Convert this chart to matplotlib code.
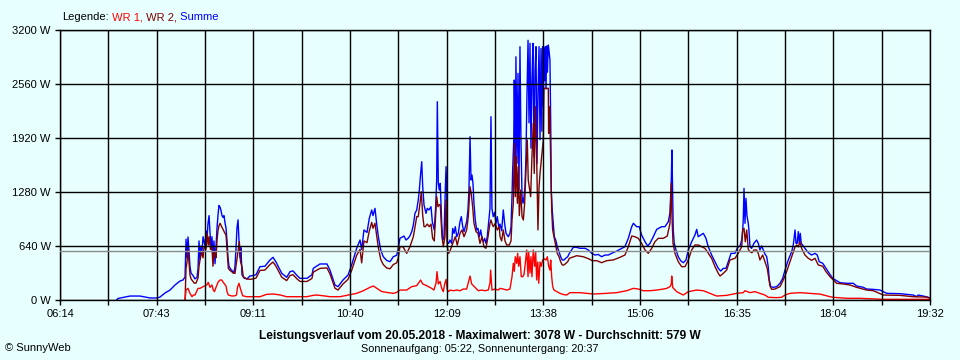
import matplotlib
matplotlib.use("Agg")
import matplotlib.pyplot as plt
import numpy as np

plt.rcParams['font.family'] = ['Liberation Sans', 'DejaVu Sans']

# ---- data (time = minutes after midnight, power in W) ----
sum_t = [426.0, 427.2, 433.6, 438.2, 447.4, 452.0, 456.6, 463.0, 465.7, 470.3, 474.9, 479.5, 484.1, 486.8, 488.7,
         489.6, 490.5, 491.4, 492.3, 493.2, 494.2, 496.0, 497.8, 499.7, 500.6, 501.5, 502.4, 503.3, 504.2, 505.2,
         507.0, 507.9, 508.8, 509.7, 510.7, 511.6, 512.5, 513.4, 514.3, 515.2, 516.2, 517.1, 518.0, 518.9, 519.8,
         520.8, 521.7, 522.6, 523.5, 524.4, 525.3, 526.3, 527.2, 528.1, 529.0, 530.8, 531.8, 533.6, 534.5, 535.4,
         536.3, 537.3, 538.2, 539.1, 540.0, 540.9, 542.8, 545.5,
         548.3, 551.0, 553.8, 557.4, 562.0, 566.6, 569.4, 572.1, 577.4, 581.9, 585.0, 587.7, 591.4, 594.1, 600.6,
         605.1, 606.3, 612.5, 618.9, 621.6, 626.2, 629.0, 633.6, 638.2, 641.5, 646.1, 649.2, 650.7, 652.8, 655.6,
         657.7, 659.9, 661.1, 662.9, 664.5, 666.0, 668.2, 670.5, 673.6, 676.7, 679.7, 682.8, 684.3,
         685.8, 687.7, 689.5, 691.4, 693.2, 695.0, 696.6, 698.1, 699.6, 701.2, 702.6, 703.6, 704.8, 705.8, 706.7,
         707.9, 709.7, 710.9, 712.4, 714.3, 715.5, 717.3, 718.6, 719.5, 720.1, 721.0, 721.9, 722.8, 724.1, 725.0,
         726.2, 727.4, 728.1, 728.7, 729.2, 730.5, 731.7, 733.3, 734.2, 735.4, 736.6, 737.9, 739.3, 740.9, 742.1,
         743.4, 744.6, 745.8, 747.0, 748.2, 749.1, 750.1, 751.0, 751.9, 752.8, 753.7, 754.9, 756.2, 757.4, 758.6,
         759.9, 761.1, 762.3, 763.5, 764.7, 765.9, 767.2, 768.4, 769.3, 770.2, 771.4, 772.7, 773.9, 775.1, 776.4,
         777.6, 779.1, 780.6, 781.9, 783.1, 785.2, 786.7, 787.7, 788.6, 789.2, 790.2, 790.7, 791.6, 792.2, 793.2,
         794.1, 795.0, 795.9, 796.8, 797.8, 798.7, 799.6, 800.5, 801.4, 802.3, 803.3, 804.2, 805.1, 806.0, 806.9,
         807.8, 808.8, 809.7, 810.6, 811.5, 812.4, 813.4, 814.3, 815.2, 816.0, 816.7, 817.3, 817.9, 818.5, 819.1,
         819.8, 820.4, 821.1, 821.9, 822.5, 823.4, 824.1, 824.6, 825.5, 826.5, 827.4, 828.7, 830.1, 831.7, 833.2,
         834.7, 836.3, 837.8, 839.7, 841.2,
         844.8, 847.9, 850.9, 855.5, 858.6, 861.7, 864.7, 867.7, 870.8, 873.9, 876.9, 880.0, 884.6, 889.2, 892.2,
         895.3, 898.4, 899.9, 902.9, 905.3, 907.5, 910.6, 913.0, 915.2, 918.2, 921.3, 925.9, 928.9, 932.0, 933.5,
         934.7, 935.3, 936.0, 936.5, 937.4, 939.0, 941.1, 943.3, 945.7, 948.2, 950.3, 953.4, 956.4, 958.0, 959.4,
         961.7, 964.1, 966.5, 968.6, 971.7, 974.8, 977.8, 980.0, 982.4, 984.9, 987.0, 989.5, 993.1, 995.6, 997.7,
         999.3, 1000.2, 1000.7, 1001.4, 1002.3, 1003.2, 1004.1, 1005.3, 1005.9, 1006.9, 1008.4, 1010.5, 1013.0,
         1014.5, 1016.0, 1017.6, 1019.1, 1020.6, 1022.2, 1023.6, 1024.6, 1025.9, 1028.2, 1031.4, 1034.4, 1036.9,
         1039.0, 1042.0, 1045.1, 1046.6, 1048.2, 1049.1, 1050.2, 1051.2, 1052.1, 1053.0, 1053.9, 1055.2, 1057.3,
         1060.4, 1063.4, 1066.5, 1068.6, 1070.4, 1073.6, 1076.6, 1079.6, 1082.7, 1086.4, 1089.4, 1095.6, 1101.6,
         1104.7, 1110.8, 1113.9, 1120.0, 1126.1, 1132.3, 1144.4, 1156.6, 1159.8, 1161.2, 1165.8, 1170.4, 1172.0]
summe = [0, 18, 35, 47, 47, 35, 24, 24, 35, 83, 118, 178, 225, 237, 272,
         720, 500, 746, 590, 400, 320, 290, 250, 270, 370, 700, 480, 640, 560, 750,
         640, 820, 700, 900, 1000, 800, 600, 750, 480, 700, 430, 640, 850, 1000, 1120,
         1100, 1060, 1000, 980, 1000, 920, 850, 700, 500, 400, 360, 350, 320, 400, 600,
         850, 950, 700, 500, 620, 300, 260, 250,
         285, 290, 300, 395, 400, 474, 506, 450, 316, 269, 336, 345, 290, 257, 257,
         300, 375, 427, 427, 355, 178, 158, 237, 296, 415, 612, 711, 600, 830, 800,
         968, 1067, 1000, 1086, 900, 750, 593, 513, 470, 454, 513, 530, 612,
         731, 745, 758, 711, 730, 760, 810, 889, 1027, 1067, 1185, 1304, 1501, 1639, 1343,
         1126, 1027, 1086, 1067, 1106, 928, 830, 1106, 1422, 2350, 1383, 1304, 1383, 909, 711,
         731, 1304, 1580, 1304, 691, 671, 711, 671, 849, 790, 869, 750, 790, 928, 988,
         869, 810, 869, 928, 1067, 1304, 1935, 1422, 1481, 1383, 1146, 948, 830, 849, 750,
         830, 731, 691, 731, 671, 750, 928, 1086, 2172, 1086, 988, 1040, 909, 988, 869,
         900, 820, 1067, 900, 790, 750, 790, 869, 1225, 1541, 1896, 2607, 1541, 2883, 1620,
         2686, 1300, 3002, 1900, 1225, 1146, 1225, 1343, 1698, 2410, 3078, 2100, 3042, 1800, 2600,
         3042, 1700, 2726, 3002, 1620, 2410, 3002, 1900, 2980, 2000, 3002, 2300, 2980, 2600, 3002,
         2500, 3010, 2700, 3022, 2960, 2844, 2100, 1304, 1067, 900, 750, 711, 632, 573, 513,
         474, 474, 494, 513, 553,
         624, 624, 613, 613, 593, 553, 533, 540, 513, 533, 533, 553, 580, 612, 632,
         731, 869, 909, 869, 869, 770, 691, 640, 672, 750, 837, 869, 869, 928, 1035,
         1422, 1778, 1200, 830, 672, 593, 513, 466, 442, 474, 593, 691, 770, 837, 750,
         770, 790, 731, 632, 533, 454, 375, 343, 375, 375, 454, 553, 553, 624, 640,
         711, 830, 950, 1323, 909, 1205, 1000, 909, 830, 632, 612, 672, 711,
         672, 593, 640, 593, 545, 514, 395, 237, 158, 150, 158, 198, 257,
         355, 474, 572, 652, 830, 672, 672, 810, 672, 790, 672, 650, 612,
         561, 533, 553, 533, 454, 435, 375, 316, 257, 229, 205, 198, 198,
         166, 150, 130, 126, 118, 79, 75, 59, 40, 59, 47, 32, 20]

wr2_t = [488.7, 489.6, 490.5, 491.4, 492.3, 493.2, 494.2, 496.0, 497.2, 498.7, 500.6, 501.5, 502.4, 504.0, 505.2,
         506.1, 507.9, 509.1, 510.0, 510.9, 512.0, 513.4, 514.3, 515.2, 516.2, 517.1, 518.0, 518.9, 519.8, 520.8,
         522.3, 523.8, 525.3, 526.3, 527.2, 528.4, 529.9, 531.5, 532.7, 534.5, 535.4, 536.6, 538.5, 539.6, 540.9,
         542.1, 545.2, 548.3, 551.0, 553.8, 557.4, 562.0, 566.6, 569.4, 572.1, 577.4, 581.9, 585.0, 587.7, 591.4,
         594.1, 600.6, 605.1, 606.3, 612.5, 618.9, 621.6, 626.2, 629.0, 633.6, 638.2, 641.5, 646.1, 649.2, 650.7,
         652.8, 655.6, 657.7, 659.9, 661.1, 662.9, 664.5, 666.0, 668.2, 670.5, 673.6, 676.7, 679.7, 682.8, 684.3,
         685.8, 688.6, 692.0, 695.0, 698.1, 701.2, 702.6, 704.2, 705.4, 706.7, 707.9, 709.1, 710.9, 712.7, 714.3,
         715.8, 717.3, 719.5, 720.7, 721.9, 722.8, 724.4, 725.6, 727.1, 728.1, 729.2, 730.5, 731.7, 734.2, 736.6,
         738.4, 740.9, 742.7, 744.6, 747.0, 748.5, 749.4, 750.1, 751.2, 752.5, 753.7, 755.6, 757.4, 759.2, 761.1,
         762.9, 764.7, 766.6, 768.4, 769.3, 770.2, 771.4, 773.3, 775.1, 776.9, 777.6, 779.1, 780.6, 782.2, 783.7,
         786.1, 787.7, 788.6, 789.8, 790.7, 791.6, 792.5, 793.5, 794.4, 795.3, 796.6, 797.8, 799.0, 800.2, 801.4,
         802.6, 803.5, 804.4, 805.7, 806.9, 808.1, 809.0, 810.0, 811.2, 812.4, 813.4, 814.3, 815.8, 817.3, 817.9,
         821.9, 822.2, 823.2, 824.1, 825.0, 825.9, 827.1, 828.3, 830.1, 831.7, 833.2, 834.7, 836.3, 838.1, 839.7,
         841.2, 847.9, 854.0, 858.6, 862.2, 866.3, 870.8, 875.4, 881.5, 887.6, 892.2, 895.3, 898.4, 901.4, 904.4,
         907.5, 910.6, 913.6, 916.7, 919.7, 922.8, 927.4, 931.0, 933.5, 934.7, 935.3, 936.3, 938.1, 941.1, 944.2,
         947.3, 950.3, 953.4, 956.4, 959.4, 962.6, 965.6, 968.6, 971.7, 974.8, 977.8, 979.4, 982.4, 985.5, 988.5,
         993.1, 996.1, 999.3, 1000.2, 1001.4, 1002.6, 1003.9, 1005.3, 1006.9, 1008.7, 1010.5, 1013.0, 1014.5,
         1016.0, 1018.5, 1020.6, 1022.7, 1025.2, 1026.8, 1029.8, 1034.4, 1037.4, 1040.5, 1043.6, 1046.6, 1048.2,
         1049.7, 1051.2, 1052.7, 1054.3, 1057.3, 1060.4, 1063.4, 1066.5, 1069.5, 1073.6, 1076.6, 1080.3, 1083.3,
         1086.4, 1092.4, 1098.6, 1104.7, 1113.9, 1120.0, 1129.1, 1144.4, 1156.6, 1168.9, 1172.0]
wr2 = [0, 375, 450, 600, 450, 300, 250, 220, 200, 200, 260, 400, 474, 572, 500,
       632, 600, 790, 650, 750, 600, 620, 400, 550, 572, 500, 700, 820, 880, 909,
       870, 830, 790, 770, 600, 375, 350, 336, 320, 316, 400, 513, 691, 450, 400,
       276, 249, 245, 250, 260, 350, 355, 420, 450, 400, 270, 230, 290, 300, 250,
       220, 220, 255, 330, 375, 380, 310, 140, 118, 190, 245, 350, 530, 600, 440,
       700, 680, 820, 920, 850, 910, 760, 620, 480, 420, 380, 370, 420, 440, 500,
       632, 632, 553, 632, 750, 988, 988, 1146, 1284, 1000, 869, 869, 900, 869, 900,
       731, 700, 1225, 1106, 1130, 1130, 750, 632, 750, 1185, 632, 553, 580, 671, 750,
       650, 790, 830, 750, 830, 988, 1185, 1343, 1264, 1106, 909, 810, 790, 671, 750,
       632, 612, 750, 909, 948, 909, 869, 909, 830, 869, 750, 700, 830, 700, 652,
       652, 700, 948, 1146, 1857, 1225, 1698, 1146, 1580, 1000, 1304, 988, 948, 1146, 1541,
       1896, 1422, 1343, 1225, 1698, 2094, 1500, 2291, 1698, 830, 1343, 1500, 1698, 1896, 2509,
       2509, 1975, 2291, 1620, 1067, 830, 750, 672, 553, 514, 454, 415, 415, 435, 454,
       494, 525, 513, 490, 466, 466, 442, 466, 475, 506, 533, 632, 758, 750, 731,
       672, 593, 553, 612, 691, 731, 731, 758, 909, 1383, 1000, 671, 553, 454, 395,
       395, 474, 593, 652, 652, 632, 612, 553, 494, 395, 316, 284, 316, 355, 474,
       494, 553, 632, 830, 850, 690, 830, 600, 572, 560, 593, 593, 550,
       474, 533, 455, 375, 166, 126, 130, 158, 237, 336, 454, 572, 630,
       652, 630, 691, 610, 533, 494, 470, 494, 415, 400, 336, 276, 237,
       198, 190, 178, 150, 118, 110, 59, 55, 39, 35, 20]

wr1_t = [488.7, 489.6, 491.4, 493.2, 495.1, 496.3, 497.8, 500.6, 502.4, 505.2, 508.6, 510.0, 511.6, 513.4, 514.6,
         515.7, 517.1, 519.2, 520.8, 522.3, 524.4, 526.3, 527.2, 528.4, 531.8, 534.5, 535.9, 536.8, 538.2, 539.6,
         541.6, 545.2, 551.3, 557.4, 563.6, 569.6, 575.8, 581.9, 588.0, 594.1, 600.3, 606.3, 609.4, 615.5, 621.6,
         630.8, 637.0, 646.1, 652.2, 658.3, 661.4, 664.5, 669.1, 673.6, 679.7, 682.8, 685.8, 692.0, 696.6, 701.2,
         704.8, 706.7, 710.3, 714.9, 717.0, 718.9, 719.8, 721.0, 722.6, 724.1, 725.6, 726.7, 728.1, 729.2, 730.5,
         731.7, 734.7, 737.9, 740.9, 743.9, 747.0, 750.1, 751.6, 753.1, 755.6, 757.7, 760.8, 763.8, 766.8, 768.4,
         769.0, 770.2, 773.0, 776.0, 777.6, 780.6, 783.7, 786.7, 788.6, 789.8, 790.7, 791.6, 792.9, 793.8, 794.7,
         795.9, 797.1, 798.4, 799.6, 800.8, 802.1, 803.3, 803.9, 805.1, 806.0, 806.9, 808.1, 809.4, 810.3, 811.2,
         812.2, 813.1, 814.3, 815.5, 816.7, 817.9, 819.8, 821.0, 822.2, 823.4, 824.1, 825.0, 825.9, 827.1, 829.6,
         832.6, 835.6, 838.7, 841.8, 850.9, 863.2, 869.3, 875.4, 884.6, 893.8, 899.9, 904.5, 909.0, 915.2, 921.3,
         927.4, 930.5, 933.5, 934.7, 935.1, 936.0, 939.6, 945.7, 950.3, 958.0, 964.1, 970.2, 976.3, 985.5, 994.7,
         1000.7, 1002.3, 1006.9, 1011.4, 1016.0, 1020.6, 1023.6, 1031.4, 1035.9, 1039.0, 1043.6, 1052.7, 1061.9,
         1071.1, 1080.3, 1083.3, 1095.6, 1107.8, 1128.6, 1172.0]
wr1 = [0, 118, 138, 79, 39, 59, 59, 138, 138, 158, 178, 209, 150, 178, 118,
       99, 150, 217, 237, 237, 198, 166, 100, 59, 47, 50, 60, 150, 198, 130,
       50, 39, 39, 39, 67, 71, 60, 39, 39, 39, 39, 55, 59, 50, 39,
       39, 55, 79, 110, 150, 166, 140, 100, 90, 79, 90, 118, 118, 158, 170,
       237, 190, 170, 138, 118, 200, 336, 190, 220, 138, 99, 180, 245, 118, 99,
       118, 110, 118, 110, 130, 130, 284, 190, 170, 138, 110, 118, 110, 118, 200,
       355, 118, 130, 118, 138, 130, 118, 130, 276, 435, 340, 513, 435, 553, 400,
       513, 276, 276, 300, 435, 593, 276, 570, 320, 513, 276, 593, 400, 570, 237,
       450, 198, 450, 400, 474, 490, 474, 513, 400, 355, 474, 276, 160, 118, 100,
       79, 65, 59, 87, 87, 71, 75, 79, 87, 110, 138, 130, 110, 110, 118,
       130, 138, 158, 190, 284, 150, 99, 59, 99, 118, 110, 79, 47, 55, 79,
       87, 110, 87, 99, 79, 59, 32, 28, 32, 59, 79, 87, 79,
       70, 39, 32, 20, 20, 8, 8]

durchschnitt = 579
y_ticks = [0, 640, 1280, 1920, 2560, 3200]
x_labels = ["06:14", "07:43", "09:11", "10:40", "12:09", "13:38", "15:06", "16:35", "18:04", "19:32"]
t_start, t_end = 374, 1172

legend_parts = ["Legende:", " WR 1,", " WR 2,", " Summe"]
legend_colors = ["black", "#ff0000", "#800000", "#0000ff"]

# ---- figure ----
bg = "#e8ffff"
px = 72 / 100  # one pixel in points
fig = plt.figure(figsize=(9.6, 3.6), dpi=100, facecolor=bg)
ax = fig.add_axes([60 / 960, 60 / 360, 870 / 960, 270 / 360])
ax.set_facecolor(bg)

ax.plot(sum_t, summe, color="#0000ff", lw=1.0)
ax.plot(wr2_t, wr2, color="#800000", lw=1.0)
ax.plot(wr1_t, wr1, color="#ff0000", lw=1.0)
ax.axhline(durchschnitt, color="#8c8c8c", lw=1.4 * px, zorder=2.6)

ax.set_xlim(t_start, t_end)
ax.set_ylim(0, y_ticks[-1])

# 18 intervals, labels on every second one
xt = np.linspace(t_start, t_end, 2 * len(x_labels) - 1)
ax.set_xticks(xt)
lab = []
for i in range(len(xt)):
    lab.append(x_labels[i // 2] if i % 2 == 0 else "")
ax.set_xticklabels(lab)
ax.set_yticks(y_ticks)
ax.set_yticklabels([f"{v} W" for v in y_ticks])

ax.set_axisbelow(False)
ax.grid(True, color="black", lw=1.4 * px)
for s in ax.spines.values():
    s.set_color("black")
    s.set_linewidth(1.4 * px)
ax.tick_params(direction="out", length=5 * px, width=1.4 * px, colors="black",
               labelsize=8, pad=3)

fig.text(480 / 960, 1 - 336 / 360,
         "Leistungsverlauf vom 20.05.2018 - Maximalwert: 3078 W - Durchschnitt: 579 W",
         ha="center", va="center", fontsize=8.6, fontweight="bold")
fig.text(480 / 960, 1 - 349 / 360, "Sonnenaufgang: 05:22, Sonnenuntergang: 20:37",
         ha="center", va="center", fontsize=7.8)
fig.text(5 / 960, 1 - 348 / 360, "\u00a9 SunnyWeb", ha="left", va="center", fontsize=8)

# multi-coloured legend line
fig.canvas.draw()
r = fig.canvas.get_renderer()
x0 = 62 / 960
for part, col in zip(legend_parts, legend_colors):
    t = fig.text(x0, 1 - 17 / 360, part, color=col, ha="left", va="center", fontsize=8)
    bb = t.get_window_extent(renderer=r)
    x0 += bb.width / fig.bbox.width

fig.savefig("out.png", dpi=100, facecolor=bg)
